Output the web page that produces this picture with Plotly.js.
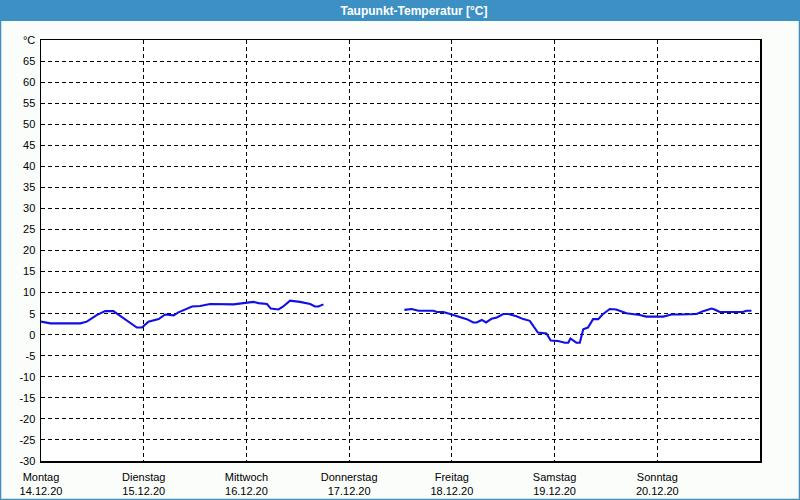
<!DOCTYPE html>
<html>
<head>
<meta charset="utf-8">
<script src="https://cdn.plot.ly/plotly-3.0.1.min.js"></script>
<style>
html,body{margin:0;padding:0;background:#fbfdfb;}
#chart{width:800px;height:500px;}
</style>
</head>
<body>
<div id="chart"></div>
<script>
// Hours since Mon 14.12.20 00:00
const hours = [0, 2.2, 9.2, 10.7, 13.1, 15.0, 16.9, 19.3, 22.4, 23.6, 25.1, 27.5, 29.0, 31.0, 32.1, 35.3, 37.2, 39.5, 45.0, 49.6, 50.8, 52.8, 53.7, 55.5, 56.6, 58.2, 60.5, 62.9, 64.0, 64.8, 66.0,
  75,
  84.9, 86.6, 88.2, 91.7, 92.5, 94.0, 95.6, 97.9, 99.5, 101.0, 101.8, 103.0, 104.0, 105.3, 106.5, 108.0, 109.2, 111.1, 112.7, 114.2, 116.1, 118.1, 119.1, 120.8, 122.4, 123.2, 123.7, 125.1, 125.9, 126.7, 127.8, 129.0, 130.2, 131.2, 132.9, 134.4, 135.2, 136.8, 139.9, 141.4, 145.4, 147.3, 149.3, 153.2, 154.7, 156.7, 157.4, 158.6, 164.0, 164.8, 166.0];
const dewPoint = [3.1, 2.7, 2.7, 3.1, 4.7, 5.6, 5.6, 3.9, 1.7, 1.7, 3.1, 3.7, 4.8, 4.6, 5.3, 6.7, 6.8, 7.3, 7.2, 7.8, 7.5, 7.3, 6.2, 6.0, 6.7, 8.1, 7.8, 7.3, 6.7, 6.7, 7.2,
  null,
  5.9, 6.1, 5.7, 5.7, 5.4, 5.4, 4.9, 4.1, 3.7, 2.9, 2.9, 3.5, 2.9, 3.8, 4.1, 4.9, 4.9, 4.4, 3.7, 3.3, 0.5, 0.3, -1.4, -1.5, -1.9, -1.9, -0.9, -1.9, -1.9, 1.3, 1.7, 3.7, 3.7, 4.8, 6.1, 6.0, 5.7, 5.1, 4.7, 4.3, 4.3, 4.8, 4.8, 4.9, 5.6, 6.2, 6.0, 5.4, 5.4, 5.7, 5.7];

const dayHours = [0, 24, 48, 72, 96, 120, 144];
const dayNames = ["Montag", "Dienstag", "Mittwoch", "Donnerstag", "Freitag", "Samstag", "Sonntag"];
const dayDates = ["14.12.20", "15.12.20", "16.12.20", "17.12.20", "18.12.20", "19.12.20", "20.12.20"];
const yTicks = [-30, -25, -20, -15, -10, -5, 0, 5, 10, 15, 20, 25, 30, 35, 40, 45, 50, 55, 60, 65, 70];
const yTickText = yTicks.map(v => v === 70 ? "°C" : String(v));
const titleText = "Taupunkt-Temperatur [°C]";

const W = 800, H = 500, ML = 41, MR = 40, MT = 40, MB = 39;
const PW = W - ML - MR, PH = H - MT - MB;
const px = x => (x - ML) / PW;
const py = y => (H - MB - y) / PH;
const barColor = "#3d90c4";

const trace = {
  x: hours, y: dewPoint, type: "scatter", mode: "lines",
  line: {color: "#0f0fe6", width: 2.1}, connectgaps: false, hoverinfo: "skip"
};

const font = {family: "Liberation Sans, Arial, sans-serif", size: 11, color: "#000"};

const layout = {
  width: W, height: H,
  margin: {l: ML, r: MR, t: MT, b: MB, pad: 0},
  paper_bgcolor: "#fbfdfb", plot_bgcolor: "#ffffff",
  font: font,
  showlegend: false,
  title: {
    text: titleText, xref: "container", yref: "container",
    x: 414 / W, y: 1 - 11 / H, xanchor: "center", yanchor: "middle",
    font: {family: "Liberation Sans, Arial, sans-serif", size: 12, color: "#ffffff", weight: 700}
  },
  xaxis: {
    range: [0, 168], tickmode: "array", tickvals: dayHours,
    ticktext: dayNames.map((n, i) => n + "<br>" + dayDates[i]),
    showgrid: true, gridcolor: "#000", gridwidth: 1, griddash: "4px,3px",
    showline: true, linecolor: "#000", linewidth: 1.5, mirror: true,
    zeroline: false, ticks: "", ticklabelstandoff: 5, fixedrange: true, tickfont: font
  },
  yaxis: {
    range: [-30, 70], tickmode: "array", tickvals: yTicks, ticktext: yTickText,
    showgrid: true, gridcolor: "#000", gridwidth: 1, griddash: "4px,3px",
    showline: true, linecolor: "#000", linewidth: 1.5, mirror: true,
    zeroline: false, ticks: "", ticklabelstandoff: 2, fixedrange: true, tickfont: font
  },
  shapes: [
    {type: "rect", xref: "paper", yref: "paper", layer: "below",
     x0: px(0), x1: px(W), y0: py(21), y1: py(0), fillcolor: barColor, line: {width: 0}},
    {type: "rect", xref: "paper", yref: "paper", layer: "below",
     x0: px(0.5), x1: px(W - 0.5), y0: py(H - 0.5), y1: py(0), fillcolor: "rgba(0,0,0,0)",
     line: {color: barColor, width: 1.5}}
  ]
};

Plotly.newPlot("chart", [trace], layout, {staticPlot: true, displayModeBar: false});
</script>
</body>
</html>
